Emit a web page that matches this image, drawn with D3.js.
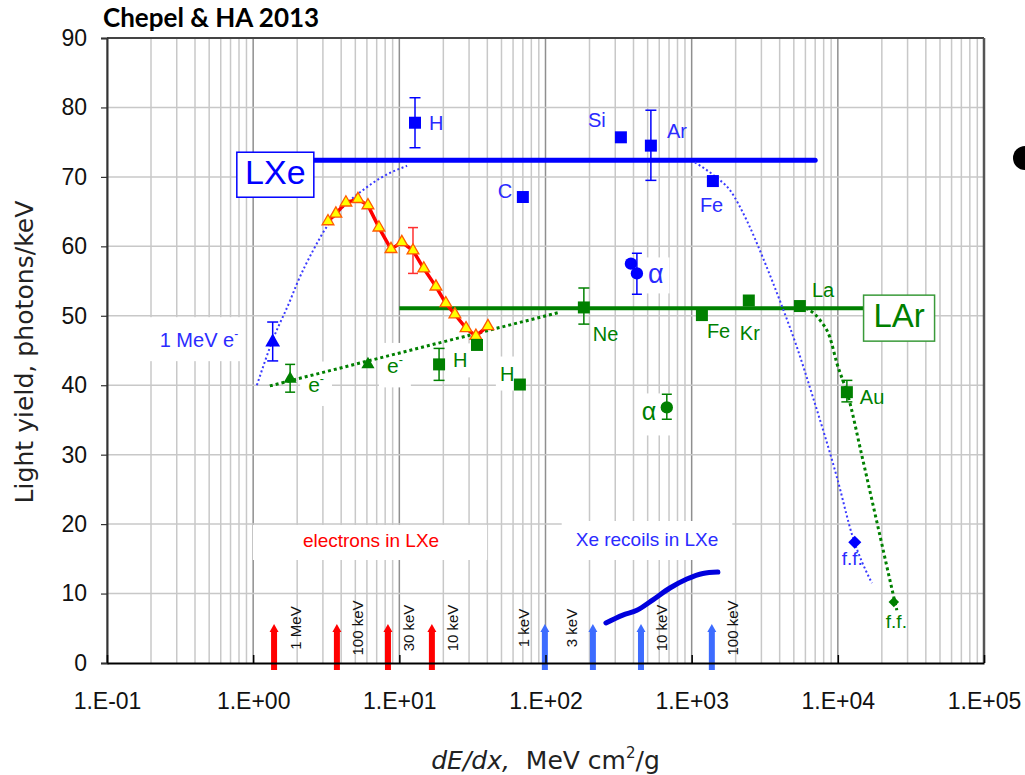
<!DOCTYPE html>
<html>
<head>
<meta charset="utf-8">
<script src="https://cdn.jsdelivr.net/npm/d3@7"></script>
<style>
  body { margin: 0; background: #fff; }
  svg { display: block; }
</style>
</head>
<body>
<svg id="chart" width="1025" height="775"></svg>
<script>
// ---------- data: light yield (photons/keV) vs dE/dx (MeV cm2/g) ----------
const xDecades = [0.1, 1, 10, 100, 1e3, 1e4, 1e5];
const xTickLabels = ["1.E-01", "1.E+00", "1.E+01", "1.E+02", "1.E+03", "1.E+04", "1.E+05"];
const yTicks = [0, 10, 20, 30, 40, 50, 60, 70, 80, 90];

// Saturated (flat) yields of the two liquids
const lxeLevel = 72.4, lxeRange = [2.6, 7000];
const larLevel = 51.1, larRange = [10, 15000];

// Dotted model curves
const lxeRise = [[1.06, 40.0], [1.36, 46.5], [1.79, 52.2], [2.0, 54.7], [2.57, 59.4], [3.35, 63.5],
                 [4.38, 66.2], [5.64, 68.1], [7.37, 69.8], [11.3, 71.6]];
const lxeFall = [[1052, 72.1], [1419, 70.2], [1825, 68.1], [2385, 63.7], [3066, 58.4], [4008, 52.2],
                 [5244, 45.5], [6750, 38.3], [9840, 26.8], [12670, 18.1], [17100, 11.5]];
const larRise = [[1.3, 39.9], [125, 50.5]];
const larFall = [[5500, 51.4], [7530, 49.4], [8820, 46.9], [9840, 43.2], [11700, 38.6], [14590, 29.9],
                 [18500, 20.3], [23780, 10.1], [25330, 7.6]];

// Electrons in LXe (red line, yellow triangles)
const electronsLXe = [[3.25, 63.6], [3.68, 64.7], [4.31, 66.3], [5.21, 66.8], [6.10, 65.9], [7.25, 62.7],
                      [8.77, 59.6], [10.4, 60.6], [12.4, 59.4], [14.7, 56.8], [17.8, 54.2], [20.8, 51.8],
                      [24.0, 50.2], [28.6, 48.2], [33.4, 47.1], [40.4, 48.5]];
const electronsErr = [{ dEdx: 12.4, lo: 56.1, hi: 62.7 }];

// Ions and particles in LXe (blue)
const lxeIons = [
  { name: "H",  dEdx: 12.8, ly: 77.8, lo: 74.2, hi: 81.4 },
  { name: "C",  dEdx: 70,   ly: 67.1 },
  { name: "Si", dEdx: 328,  ly: 75.7 },
  { name: "Ar", dEdx: 526,  ly: 74.5, lo: 69.5, hi: 79.6 },
  { name: "Fe", dEdx: 1397, ly: 69.4 }
];
const lxeAlpha = [{ dEdx: 384, ly: 57.5 }, { dEdx: 422, ly: 56.1, lo: 53.1, hi: 59.0 }];
const lxeElectron = [{ dEdx: 1.36, ly: 46.2, lo: 43.5, hi: 49.1 }];
const lxeFission = [{ dEdx: 13060, ly: 17.4 }];

// Ions and particles in LAr (green)
const larIons = [
  { name: "Ne", dEdx: 183,   ly: 51.2, lo: 48.8, hi: 54.0 },
  { name: "Fe", dEdx: 1175,  ly: 50.1 },
  { name: "Kr", dEdx: 2460,  ly: 52.2 },
  { name: "La", dEdx: 5500,  ly: 51.4 },
  { name: "Au", dEdx: 11530, ly: 39.0, lo: 37.6, hi: 40.7 },
  { name: "H",  dEdx: 18.7,  ly: 43.0, lo: 40.7, hi: 45.3 },
  { name: "H2", dEdx: 66.8,  ly: 40.1 },
  { name: "",   dEdx: 34,    ly: 45.8 }
];
const larAlpha = [{ dEdx: 676, ly: 36.8, lo: 35.1, hi: 38.7 }];
const larElectrons = [{ dEdx: 1.79, ly: 40.9, lo: 39.0, hi: 43.0 }, { dEdx: 6.1, ly: 43.0 }];
const larFission = [{ dEdx: 24150, ly: 8.8 }];

// Energies of electrons and Xe recoils marked on the dE/dx axis
const electronArrowE = ["1 MeV", "100 keV", "30 keV", "10 keV"];
const electronArrowX = [1.39, 3.74, 8.36, 16.7];
const recoilArrowE = ["1 keV", "3 keV", "10 keV", "100 keV"];
const recoilArrowX = [99, 211, 450, 1374];
const xeRecoils = [[259, 5.76], [338, 6.9], [422, 7.6], [543, 9.1], [710, 10.8], [927, 12.1], [1193, 12.9], [1512, 13.1]];

// ---------- layout ----------
const svg = d3.select("#chart");
const box = { l: 107, r: 984, t: 38, b: 663 };
const x = d3.scaleLog().domain([0.1, 1e5]).range([box.l, box.r]);
const y = d3.scaleLinear().domain([0, 90]).range([box.b, box.t]);

const BLUE = "#0000ff", BLUE_TXT = "#2b2bff", GREEN = "#008000", RED = "#ff0000", ARROW_BLUE = "#3d6cff";
const SANS = "'Liberation Sans', Arial, sans-serif";
const WIDE = "'DejaVu Sans', Verdana, sans-serif";

const gGrid = svg.append("g");
const gBg = svg.append("g");
const gMarks = svg.append("g");
const gText = svg.append("g");

// grid
gGrid.selectAll("line.vx").data(x.ticks()).join("line")
  .attr("x1", d => x(d)).attr("x2", d => x(d)).attr("y1", box.t).attr("y2", box.b)
  .attr("stroke", d => xDecades.includes(d) ? "#8f8f8f" : "#c8c8c8").attr("stroke-width", 1.5);
gGrid.selectAll("line.hy").data(yTicks.filter(v => v > 0 && v < 90)).join("line")
  .attr("x1", box.l).attr("x2", box.r).attr("y1", d => y(d)).attr("y2", d => y(d))
  .attr("stroke", "#c8c8c8").attr("stroke-width", 1.5);

// frame
gGrid.append("line").attr("x1", box.l).attr("x2", box.r).attr("y1", box.t).attr("y2", box.t)
  .attr("stroke", "#444").attr("stroke-width", 2);
gGrid.append("line").attr("x1", box.r).attr("x2", box.r).attr("y1", box.t).attr("y2", box.b)
  .attr("stroke", "#555").attr("stroke-width", 2.5);

// axes
const yAxis = svg.append("g").attr("transform", `translate(${box.l},0)`)
  .call(d3.axisLeft(y).tickValues(yTicks).tickSize(6).tickPadding(14));
yAxis.select(".domain").attr("stroke", "#333").attr("stroke-width", 2);
yAxis.selectAll(".tick line").attr("stroke", "#333").attr("stroke-width", 1.2);
yAxis.selectAll(".tick text").attr("font-family", SANS).attr("font-size", 23).attr("fill", "#111");

const xAxis = svg.append("g").attr("transform", `translate(0,${box.b})`)
  .call(d3.axisBottom(x).tickValues(xDecades).tickFormat((d, i) => xTickLabels[i])
    .tickSizeInner(-8).tickSizeOuter(0).tickPadding(30));
xAxis.select(".domain").attr("stroke", "#000").attr("stroke-width", 2);
xAxis.selectAll(".tick line").attr("stroke", "#000").attr("stroke-width", 1.5);
xAxis.selectAll(".tick text").attr("font-family", SANS).attr("font-size", 23).attr("fill", "#111");

// axis titles
svg.append("text").attr("transform", "translate(33,352) rotate(-90)")
  .attr("text-anchor", "middle").attr("font-family", WIDE).attr("font-size", 24).attr("fill", "#222")
  .attr("textLength", 303).attr("lengthAdjust", "spacingAndGlyphs")
  .text("Light yield, photons/keV");
const xt = svg.append("text").attr("x", (box.l + box.r) / 2).attr("y", 769)
  .attr("text-anchor", "middle").attr("font-family", WIDE).attr("font-size", 25).attr("fill", "#222");
xt.append("tspan").attr("font-style", "italic").text("dE/dx,");
xt.append("tspan").text("\u00a0 MeV cm");
xt.append("tspan").attr("font-size", 15).attr("dy", -11).text("2");
xt.append("tspan").attr("dy", 11).text("/g");

// title and slide bullet
svg.append("text").attr("x", 103).attr("y", 27).attr("font-family", "Lato, 'Open Sans', sans-serif")
  .attr("font-weight", 700).attr("font-size", 26).attr("fill", "#000").text("Chepel & HA 2013");
svg.append("circle").attr("cx", 1025).attr("cy", 158).attr("r", 12).attr("fill", "#000");

// ---------- helpers ----------
function label(str, px, py, opt = {}) {
  const t = gText.append("text").attr("x", px).attr("y", py)
    .attr("font-family", opt.font || SANS).attr("font-size", opt.size || 20)
    .attr("fill", opt.color || "#000").attr("text-anchor", opt.anchor || "start");
  if (opt.sup) {
    t.append("tspan").text(str);
    t.append("tspan").attr("font-size", (opt.size || 20) * 0.6).attr("dy", -(opt.size || 20) * 0.45).text(opt.sup);
  } else t.text(str);
  if (opt.bg) {
    const b = t.node().getBBox(), p = opt.bg;
    gBg.append("rect").attr("x", b.x - p[0]).attr("y", b.y - p[1])
      .attr("width", b.width + p[0] + (p[2] ?? p[0])).attr("height", b.height + p[1] + (p[3] ?? p[1]))
      .attr("fill", "#fff");
  }
  return t;
}
function errBar(d, color, cap = 11) {
  if (d.lo == null) return;
  const px = x(d.dEdx);
  const g = gMarks.append("g").attr("stroke", color).attr("stroke-width", 1.5);
  g.append("line").attr("x1", px).attr("x2", px).attr("y1", y(d.lo)).attr("y2", y(d.hi));
  g.append("line").attr("x1", px - cap / 2).attr("x2", px + cap / 2).attr("y1", y(d.lo)).attr("y2", y(d.lo));
  g.append("line").attr("x1", px - cap / 2).attr("x2", px + cap / 2).attr("y1", y(d.hi)).attr("y2", y(d.hi));
}
const sym = (type, size) => d3.symbol().type(type).size(size)();
function mark(d, type, size, fill, stroke, sw = 0, rot = 0) {
  gMarks.append("path").attr("d", sym(type, size))
    .attr("transform", `translate(${x(d.dEdx)},${y(d.ly)}) rotate(${rot})`)
    .attr("fill", fill).attr("stroke", stroke || "none").attr("stroke-width", sw);
}
const line = d3.line().x(d => x(d[0])).y(d => y(d[1])).curve(d3.curveMonotoneX);

// ---------- text backgrounds (drawn first so they hide only the grid) ----------
label("electrons in LXe", 371, 547, { color: RED, size: 19, anchor: "middle", bg: [50, 5, 48, 9] });
label("Xe recoils in LXe", 647, 546, { color: BLUE_TXT, size: 19, anchor: "middle", bg: [14, 8, 14, 10] });

// ---------- bottom arrows ----------
function arrows(xs, names, color, sides) {
  xs.forEach((v, i) => {
    const px = x(v), top = 624, bot = box.b + 7;
    gMarks.append("rect").attr("x", px - 3).attr("y", top + 7).attr("width", 6).attr("height", bot - top - 7).attr("fill", color);
    gMarks.append("path").attr("d", `M${px - 4.5},${top + 8} L${px},${top} L${px + 4.5},${top + 8} Z`).attr("fill", color);
    gText.append("text").attr("transform", `translate(${px + sides[i] * 21},628) rotate(-90)`)
      .attr("text-anchor", "middle").attr("dominant-baseline", "central")
      .attr("font-family", SANS).attr("font-size", 15).attr("fill", "#111").text(names[i]);
  });
}
arrows(electronArrowX, electronArrowE, RED, [1, 1, 1, 1]);
arrows(recoilArrowX, recoilArrowE, ARROW_BLUE, [-1, -1, 1, 1]);
gMarks.append("path").datum(xeRecoils).attr("d", line).attr("fill", "none")
  .attr("stroke", "#0000dd").attr("stroke-width", 5).attr("stroke-linecap", "round");

// ---------- saturated-yield lines and model curves ----------
gMarks.append("line").attr("x1", x(lxeRange[0])).attr("x2", x(lxeRange[1]))
  .attr("y1", y(lxeLevel)).attr("y2", y(lxeLevel)).attr("stroke", BLUE).attr("stroke-width", 5).attr("stroke-linecap", "round");
gMarks.append("line").attr("x1", x(larRange[0])).attr("x2", x(larRange[1]))
  .attr("y1", y(larLevel)).attr("y2", y(larLevel)).attr("stroke", GREEN).attr("stroke-width", 4);

[lxeRise, lxeFall].forEach(c => gMarks.append("path").datum(c).attr("d", line).attr("fill", "none")
  .attr("stroke", "#3a3aff").attr("stroke-width", 2).attr("stroke-dasharray", "2,2.5"));
[larRise, larFall].forEach(c => gMarks.append("path").datum(c).attr("d", line).attr("fill", "none")
  .attr("stroke", GREEN).attr("stroke-width", 3).attr("stroke-dasharray", "3,3"));

// liquid labels in boxes
const lxeX = x(lxeRange[0]), lxeY = y(lxeLevel);
gMarks.append("rect").attr("x", lxeX - 77).attr("y", lxeY - 8).attr("width", 77).attr("height", 45)
  .attr("fill", "#fff").attr("stroke", BLUE).attr("stroke-width", 1.5);
label("LXe", lxeX - 38.5, lxeY + 23.5, { color: BLUE, size: 34, anchor: "middle" });
const larX = x(larRange[1]), larY = y(larLevel);
gMarks.append("rect").attr("x", larX).attr("y", larY - 13).attr("width", 71).attr("height", 46)
  .attr("fill", "#fff").attr("stroke", "#3a9a3a").attr("stroke-width", 1.5);
label("LAr", larX + 35.5, larY + 19, { color: GREEN, size: 33, anchor: "middle" });

// ---------- electrons in LXe ----------
electronsErr.forEach(d => errBar(d, "#ff3030", 10));
gMarks.append("path").datum(electronsLXe).attr("d", d3.line().x(d => x(d[0])).y(d => y(d[1])))
  .attr("fill", "none").attr("stroke", RED).attr("stroke-width", 3.5).attr("stroke-linejoin", "round");
electronsLXe.forEach(p => mark({ dEdx: p[0], ly: p[1] }, d3.symbolTriangle, 60, "#ffff00", "#ff5a00", 1.3));

// ---------- LXe points ----------
const lxeOff = { H: [14, 7], C: [-25, 1], Si: [-33, -10], Ar: [16, -8], Fe: [-13, 31] };
lxeIons.forEach(d => {
  errBar(d, BLUE, 11);
  mark(d, d3.symbolSquare, 144, BLUE);
  const o = lxeOff[d.name];
  label(d.name, x(d.dEdx) + o[0], y(d.ly) + o[1], { color: BLUE_TXT, size: 20 });
});
lxeAlpha.forEach(d => { errBar(d, BLUE, 10); mark(d, d3.symbolCircle, 120, BLUE); });
{ const d = lxeAlpha[1]; label("\u03b1", x(d.dEdx) + 11, y(d.ly) + 10, { color: BLUE_TXT, size: 27, bg: [6, 2, 6, 4] }); }
lxeElectron.forEach(d => {
  errBar(d, BLUE, 11);
  mark(d, d3.symbolTriangle, 95, BLUE);
  label("1 MeV e", x(d.dEdx) - 113, y(d.ly) + 5, { color: BLUE_TXT, size: 20, sup: "-", bg: [12, 10, 6, 10] });
});
lxeFission.forEach(d => {
  mark(d, d3.symbolSquare, 85, BLUE, null, 0, 45);
  label("f.f.", x(d.dEdx) - 13, y(d.ly) + 23, { color: BLUE_TXT, size: 19 });
});

// ---------- LAr points ----------
const larOff = { Ne: [9, 34], Fe: [5, 23], Kr: [-9, 39], La: [12, -9], Au: [13, 12], H: [14, 3], H2: [-20, -4] };
larIons.forEach(d => {
  errBar(d, GREEN, 11);
  mark(d, d3.symbolSquare, 144, GREEN);
  const o = larOff[d.name];
  if (o) label(d.name === "H2" ? "H" : d.name, x(d.dEdx) + o[0], y(d.ly) + o[1],
    { color: GREEN, size: 20, bg: d.name.startsWith("H") ? [4, 6, 4, 6] : null });
});
larAlpha.forEach(d => {
  errBar(d, GREEN, 10);
  mark(d, d3.symbolCircle, 120, GREEN);
  label("\u03b1", x(d.dEdx) - 25, y(d.ly) + 13, { color: GREEN, size: 25, bg: [6, 4, 14, 10] });
});
larElectrons.forEach((d, i) => {
  errBar(d, GREEN, 10);
  mark(d, d3.symbolTriangle, 75, GREEN);
  const o = i === 0 ? [18, 13] : [19, 9];
  label("e", x(d.dEdx) + o[0], y(d.ly) + o[1], { color: GREEN, size: 21, sup: "-", bg: [8, 10, 8, 10] });
});
larFission.forEach(d => {
  mark(d, d3.symbolSquare, 55, GREEN, null, 0, 45);
  label("f.f.", x(d.dEdx) - 8, y(d.ly) + 26, { color: GREEN, size: 19 });
});
</script>
</body>
</html>
